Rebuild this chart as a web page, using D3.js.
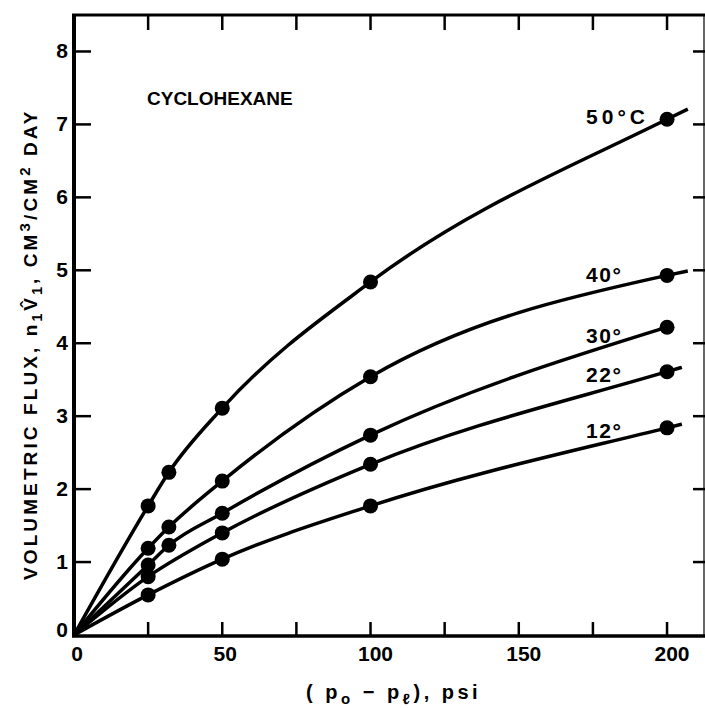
<!DOCTYPE html>
<html>
<head>
<meta charset="utf-8">
<script src="https://cdn.jsdelivr.net/npm/d3@7"></script>
<style>
    body { margin: 0; background: #fff; }
    svg { display: block; }
    text { font-family: "Liberation Sans", Arial, sans-serif; font-weight: bold; fill: #000; }
</style>
</head>
<body>
<div id="chart"></div>
<script>
    // data
    var temps = ["50°C", "40°", "30°", "22°", "12°"];
    var pressA = [25, 32, 50, 100, 200];   // runs with the extra point near 32 psi
    var pressB = [25, 50, 100, 200];
    var flux50 = [1.77, 2.23, 3.11, 4.84, 7.07];
    var flux40 = [1.19, 1.48, 2.11, 3.54, 4.93];
    var flux30 = [0.96, 1.23, 1.67, 2.74, 4.22];
    var flux22 = [0.80, 1.40, 2.34, 3.61];
    var flux12 = [0.55, 1.04, 1.77, 2.84];
    // where the drawn curve stops (a bit past the last point for most runs)
    var curveEnd = [[207, 7.21], [207, 4.99], null, [205, 3.67], [205, 2.89]];
    var xTicks = [0, 25, 50, 75, 100, 125, 150, 175, 200];
    var xLabels = [0, 50, 100, 150, 200];
    var yTicks = [0, 1, 2, 3, 4, 5, 6, 7, 8];

    var series = [
        {name: temps[0], p: pressA, f: flux50, end: curveEnd[0], dy: 5},
        {name: temps[1], p: pressA, f: flux40, end: curveEnd[1], dy: 7},
        {name: temps[2], p: pressA, f: flux30, end: curveEnd[2], dy: 16},
        {name: temps[3], p: pressB, f: flux22, end: curveEnd[3], dy: 10},
        {name: temps[4], p: pressB, f: flux12, end: curveEnd[4], dy: 10}
    ];

    var width = 705, height = 708;
    var svg = d3.select("#chart").append("svg")
        .attr("width", width)
        .attr("height", height);

    var x = d3.scaleLinear().domain([0, 212.8]).range([74, 705]);
    var y = d3.scaleLinear().domain([0, 8.5]).range([635, 15]);

    // frame
    svg.append("line").attr("x1", 74).attr("x2", 74).attr("y1", 14).attr("y2", 637)
        .attr("stroke", "#000").attr("stroke-width", 4);
    svg.append("line").attr("x1", 72).attr("x2", 705).attr("y1", 15).attr("y2", 15)
        .attr("stroke", "#000").attr("stroke-width", 3);
    svg.append("line").attr("x1", 72).attr("x2", 705).attr("y1", 636).attr("y2", 636)
        .attr("stroke", "#000").attr("stroke-width", 3.5);
    svg.append("line").attr("x1", 704).attr("x2", 704).attr("y1", 15).attr("y2", 636)
        .attr("stroke", "#000").attr("stroke-width", 1.2);

    // ticks, all pointing inward
    svg.selectAll(".xb").data(xTicks.slice(1)).enter().append("line")
        .attr("x1", d => x(d)).attr("x2", d => x(d))
        .attr("y1", 636).attr("y2", 622)
        .attr("stroke", "#000").attr("stroke-width", 2.5);
    svg.selectAll(".xt").data(xTicks.slice(1)).enter().append("line")
        .attr("x1", d => x(d)).attr("x2", d => x(d))
        .attr("y1", 15).attr("y2", 30)
        .attr("stroke", "#000").attr("stroke-width", 2.5);
    svg.selectAll(".yl").data(yTicks.slice(1)).enter().append("line")
        .attr("x1", 74).attr("x2", 91)
        .attr("y1", d => y(d)).attr("y2", d => y(d))
        .attr("stroke", "#000").attr("stroke-width", 2.5);
    svg.selectAll(".yr").data(yTicks.slice(1)).enter().append("line")
        .attr("x1", 693).attr("x2", 705)
        .attr("y1", d => y(d)).attr("y2", d => y(d))
        .attr("stroke", "#000").attr("stroke-width", 2.5);

    // tick labels
    svg.selectAll(".xlab").data(xLabels).enter().append("text")
        .attr("x", d => x(d) + (d >= 100 ? 5 : 3))
        .attr("y", 661)
        .attr("text-anchor", "middle")
        .attr("font-size", "21px")
        .text(d => d);
    svg.selectAll(".ylab").data(yTicks).enter().append("text")
        .attr("x", 68)
        .attr("y", d => y(d) + (d === 0 ? 2 : 7))
        .attr("text-anchor", "end")
        .attr("font-size", "21px")
        .text(d => d);

    // axis titles
    var xt = svg.append("text")
        .attr("x", 306).attr("y", 699)
        .attr("font-size", "20px")
        .attr("letter-spacing", "3.5px");
    xt.append("tspan").text("( p");
    xt.append("tspan").attr("dy", 5).attr("font-size", "15px").text("o");
    xt.append("tspan").attr("dy", -5).text(" − p");
    xt.append("tspan").attr("dy", 5).attr("font-size", "15px").text("ℓ");
    xt.append("tspan").attr("dy", -5).text("),  psi");

    var yt = svg.append("text")
        .attr("transform", "translate(37,580) rotate(-90)")
        .attr("font-size", "19px")
        .attr("letter-spacing", "3.1px");
    yt.append("tspan").text("VOLUMETRIC  FLUX,  n");
    yt.append("tspan").attr("dy", 5).attr("font-size", "14px").text("1");
    yt.append("tspan").attr("dy", -5).text("V\u0302");
    yt.append("tspan").attr("dy", 5).attr("font-size", "14px").text("1");
    yt.append("tspan").attr("dy", -5).text(",  CM");
    yt.append("tspan").attr("dy", -7).attr("font-size", "15px").text("3");
    yt.append("tspan").attr("dy", 7).text("/CM");
    yt.append("tspan").attr("dy", -7).attr("font-size", "15px").text("2");
    yt.append("tspan").attr("dy", 7).text("  DAY");

    svg.append("text")
        .attr("x", 147).attr("y", 105)
        .attr("font-size", "19px")
        .text("CYCLOHEXANE");

    // curves
    var line = d3.line()
        .x(d => x(d[0]))
        .y(d => y(d[1]))
        .curve(d3.curveMonotoneX);

    series.forEach(function (s) {
        var pts = [[0, 0]].concat(s.p.map((p, i) => [p, s.f[i]]));
        var path = s.end ? pts.concat([s.end]) : pts;
        svg.append("path")
            .attr("d", line(path))
            .attr("fill", "none")
            .attr("stroke", "#000")
            .attr("stroke-width", 3.5);
        svg.selectAll(null).data(pts.slice(1)).enter().append("circle")
            .attr("cx", d => x(d[0]))
            .attr("cy", d => y(d[1]))
            .attr("r", 7.5)
            .attr("fill", "#000");
        var last = pts[pts.length - 1];
        svg.append("text")
            .attr("x", x(last[0]) - 81)
            .attr("y", y(last[1]) + s.dy)
            .attr("font-size", "21px")
            .attr("letter-spacing", s.name.length > 3 ? "4px" : "1.5px")
            .text(s.name);
    });
</script>
</body>
</html>
